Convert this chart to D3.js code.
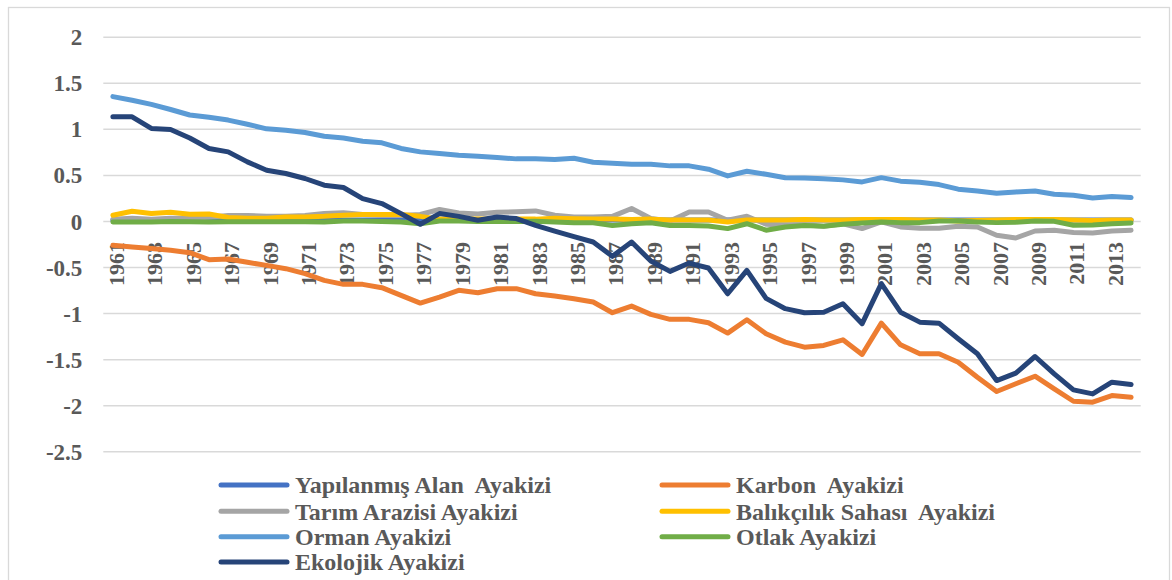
<!DOCTYPE html>
<html><head><meta charset="utf-8">
<script src="https://cdn.jsdelivr.net/npm/d3@7/dist/d3.min.js"></script>
<style>
html,body{margin:0;padding:0;background:#fff;}
svg{display:block;}
text{font-family:"Liberation Serif","Times New Roman",serif;font-weight:bold;fill:#595959;}
</style></head>
<body>
<svg id="chart" width="1172" height="580"></svg>
<script>
const years = d3.range(1961, 2015);
const yTicks = [2, 1.5, 1, 0.5, 0, -0.5, -1, -1.5, -2, -2.5];
const yTickLabels = ["2", "1.5", "1", "0.5", "0", "-0.5", "-1", "-1.5", "-2", "-2.5"];
const xTickYears = years.filter(y => (y - 1961) % 2 === 0);

const seriesNames = ["Yapılanmış Alan  Ayakizi", "Karbon  Ayakizi", "Tarım Arazisi Ayakizi",
  "Balıkçılık Sahası  Ayakizi", "Orman Ayakizi", "Otlak Ayakizi", "Ekolojik Ayakizi"];
const seriesColors = ["#4472C4", "#ED7D31", "#A5A5A5", "#FFC000", "#5B9BD5", "#70AD47", "#264478"];

const yapilanmis = [0.01,0.01,0.01,0.01,0.01,0.01,0.01,0.01,0.01,0.01,0.01,0.01,0.01,0.01,0.01,
  0.01,0.01,0.01,0.01,0.01,0.01,0.01,0.01,0.01,0.01,0.01,0.01,0.01,0.01,0.01,0.01,0.01,0.01,0.01,0.01,
  0.01,0.01,0.01,0.01,0.01,0.01,0.01,0.01,0.01,0.01,0.01,0.01,0.01,0.01,0.01,0.01,0.01,0.01,0.01];
const karbon = [-0.264,-0.283,-0.30,-0.318,-0.344,-0.42,-0.413,-0.449,-0.482,-0.518,-0.572,-0.645,-0.688,-0.688,-0.724,
  -0.808,-0.891,-0.826,-0.753,-0.779,-0.735,-0.735,-0.79,-0.815,-0.844,-0.88,-0.996,-0.924,-1.014,-1.068,-1.068,-1.105,-1.217,-1.072,-1.224,
  -1.315,-1.37,-1.351,-1.29,-1.449,-1.109,-1.344,-1.442,-1.442,-1.533,-1.696,-1.851,-1.767,-1.685,-1.822,-1.957,-1.967,-1.895,-1.913];
const tarim = [0.02,0.03,0.02,0.03,0.03,0.04,0.06,0.06,0.05,0.05,0.06,0.08,0.09,0.07,0.06,
  0.06,0.07,0.124,0.087,0.076,0.095,0.1,0.109,0.062,0.043,0.043,0.05,0.135,0.026,0.0,0.098,0.098,0.008,0.051,-0.036,
  -0.047,-0.04,-0.058,-0.03,-0.083,-0.01,-0.065,-0.08,-0.08,-0.058,-0.065,-0.155,-0.185,-0.109,-0.101,-0.126,-0.13,-0.109,-0.101];
const balikcilik = [0.062,0.105,0.08,0.095,0.073,0.076,0.037,0.03,0.03,0.043,0.043,0.05,0.062,0.07,0.07,
  0.07,0.05,0.02,0.02,0.02,0.02,0.02,0.02,0.03,0.025,0.02,0.02,0.015,0.02,0.01,0.01,0.01,-0.01,0.01,0.01,
  0.01,0.015,0.01,0.01,0.015,0.015,0.015,0.01,0.01,0.0,0.005,0.01,0.015,0.015,0.015,0.01,0.005,0.01,0.01];
const orman = [1.35,1.31,1.265,1.21,1.15,1.125,1.095,1.05,1.0,0.985,0.96,0.92,0.90,0.866,0.848,
  0.787,0.75,0.733,0.714,0.703,0.689,0.674,0.674,0.667,0.68,0.638,0.627,0.616,0.616,0.598,0.598,0.562,0.489,0.54,0.507,
  0.47,0.467,0.457,0.446,0.424,0.47,0.432,0.421,0.395,0.345,0.326,0.30,0.315,0.326,0.29,0.279,0.25,0.265,0.254];
const otlak = [-0.01,-0.012,-0.012,-0.005,-0.008,-0.01,-0.008,-0.008,-0.008,-0.008,-0.008,-0.01,0.0,0.0,-0.005,
  -0.01,-0.03,0.0,0.0,-0.005,-0.005,-0.005,-0.004,-0.01,-0.02,-0.02,-0.05,-0.03,-0.02,-0.05,-0.05,-0.055,-0.083,-0.03,-0.1,
  -0.065,-0.05,-0.058,-0.036,-0.022,-0.01,-0.018,-0.018,0.0,0.0,-0.01,-0.018,-0.014,0.0,-0.004,-0.047,-0.043,-0.03,-0.022];
const ekolojik = [1.13,1.13,1.004,0.993,0.90,0.787,0.75,0.641,0.551,0.515,0.461,0.388,0.363,0.243,0.189,
  0.08,-0.036,0.08,0.05,0.008,0.043,0.026,-0.047,-0.11,-0.17,-0.228,-0.384,-0.228,-0.435,-0.547,-0.457,-0.51,-0.79,-0.536,-0.84,
  -0.952,-0.996,-0.99,-0.898,-1.115,-0.68,-0.99,-1.098,-1.109,-1.279,-1.442,-1.732,-1.652,-1.471,-1.659,-1.833,-1.877,-1.75,-1.775];

const seriesValues = [yapilanmis, karbon, tarim, balikcilik, orman, otlak, ekolojik];

const svg = d3.select("#chart");
const plotLeft = 103.3, plotRight = 1140.7, plotTop = 36.7, plotBottom = 451.3;

// outer chart border
svg.append("rect").attr("x", 8.5).attr("y", 7.5).attr("width", 1161).attr("height", 590)
  .attr("fill", "none").attr("stroke", "#D9D9D9").attr("stroke-width", 1.3);

const x = d3.scaleBand().domain(years).range([plotLeft, plotRight]).paddingInner(0).paddingOuter(0);
const xc = yr => x(yr) + x.bandwidth() / 2;
const y = d3.scaleLinear().domain([-2.5, 2]).range([plotBottom, plotTop]);

// gridlines
const grid = svg.append("g").attr("transform", `translate(${plotLeft},0)`)
  .call(d3.axisLeft(y).tickValues(yTicks).tickSize(-(plotRight - plotLeft)).tickFormat(""));
grid.select(".domain").remove();
grid.selectAll(".tick line").attr("stroke", "#D9D9D9").attr("stroke-width", 1.5);

// y axis labels
const yAxis = svg.append("g").attr("transform", `translate(${plotLeft},0)`)
  .call(d3.axisLeft(y).tickValues(yTicks).tickSize(0).tickPadding(21)
    .tickFormat((d, i) => yTickLabels[i]));
yAxis.select(".domain").remove();
yAxis.selectAll("text").attr("font-size", 23).attr("font-family", "Liberation Serif, serif")
  .attr("font-weight", "bold").attr("fill", "#595959").attr("dy", "0.35em");

// x axis labels (rotated) at zero line
const xAxis = svg.append("g").attr("transform", `translate(0,${y(0)})`)
  .call(d3.axisBottom(x).tickValues(xTickYears).tickSize(0));
xAxis.select(".domain").remove();
xAxis.selectAll("text")
  .attr("font-size", 22).attr("font-family", "Liberation Serif, serif")
  .attr("font-weight", "bold").attr("fill", "#595959")
  .attr("transform", "rotate(-90)")
  .attr("x", -21).attr("y", 0).attr("dy", "0.5em")
  .attr("text-anchor", "end");

// lines
const line = d3.line().x((d, i) => xc(years[i])).y(d => y(d));
seriesValues.forEach((vals, k) => {
  svg.append("path").datum(vals)
    .attr("d", line)
    .attr("fill", "none")
    .attr("stroke", seriesColors[k])
    .attr("stroke-width", 5)
    .attr("stroke-linejoin", "round")
    .attr("stroke-linecap", "round");
});

// legend
const legRowY = [485, 511.3, 536.8, 562];
const legColX = [221, 662];
const leg = svg.append("g");
seriesNames.forEach((name, i) => {
  const col = i % 2, row = Math.floor(i / 2);
  const lx = legColX[col], ly = legRowY[row];
  leg.append("line").attr("x1", lx).attr("x2", lx + 66).attr("y1", ly).attr("y2", ly)
    .attr("stroke", seriesColors[i]).attr("stroke-width", 5).attr("stroke-linecap", "round");
  leg.append("text").attr("x", lx + 74).attr("y", ly).attr("dy", "0.35em")
    .attr("font-size", 24).attr("xml:space", "preserve").style("white-space", "pre")
    .text(name);
});
</script>
</body></html>
